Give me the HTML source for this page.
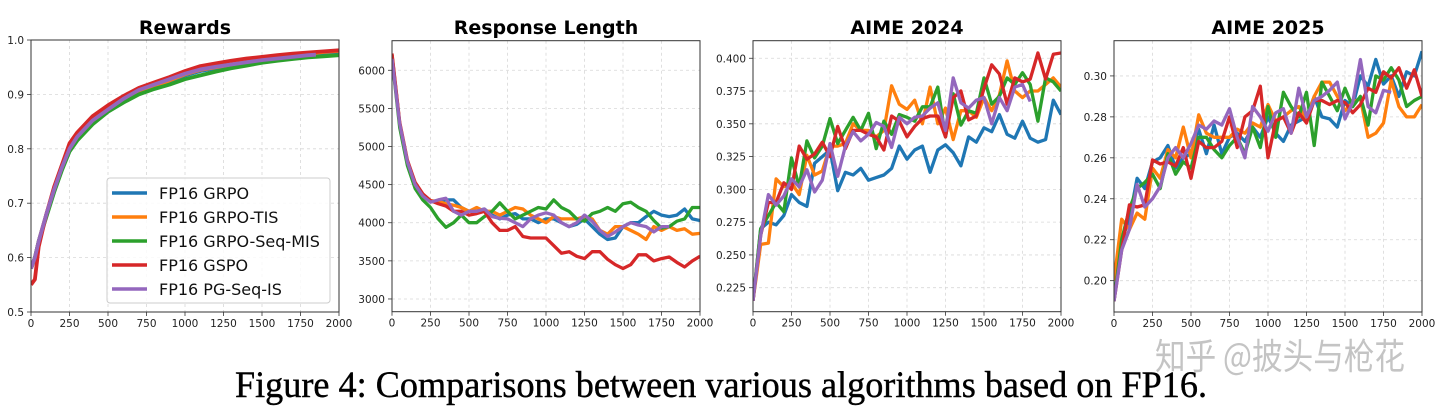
<!DOCTYPE html>
<html><head><meta charset="utf-8"><style>
html,body{margin:0;padding:0;background:#fff;width:1440px;height:413px;overflow:hidden}
svg text{font-family:"DejaVu Sans","Liberation Sans",sans-serif}
</style></head><body>
<svg id="fig" width="1440" height="413" viewBox="0 0 1440 413" xmlns="http://www.w3.org/2000/svg"></svg>
<script>
// ---- Data ----
const seriesNames = ["FP16 GRPO","FP16 GRPO-TIS","FP16 GRPO-Seq-MIS","FP16 GSPO","FP16 PG-Seq-IS"];
const seriesColors = ["#1f77b4","#ff7f0e","#2ca02c","#d62728","#9467bd"];
const xTickLabels = [0,250,500,750,1000,1250,1500,1750,2000];

// Rewards
const rewStepsA = [0,25,50,100,150,200,250,300,400,500,600,700,800,900,1000,1100,1200,1300,1400,1500,1600,1700,1800,1900,2000];
const rewStepsP = [0,25,50,100,150,200,250,300,400,500,600,700,800,900,1000,1100,1200,1300,1400,1500,1600,1700,1800,1850];
const rewBlue   = [0.58,0.60,0.63,0.68,0.725,0.765,0.80,0.82,0.85,0.87,0.89,0.905,0.915,0.925,0.935,0.943,0.948,0.953,0.958,0.963,0.966,0.969,0.972,0.975,0.977];
const rewOrange = [0.58,0.60,0.63,0.68,0.725,0.765,0.80,0.82,0.85,0.872,0.89,0.905,0.915,0.926,0.937,0.945,0.95,0.955,0.96,0.965,0.968,0.971,0.975,0.978,0.98];
const rewGreen  = [0.58,0.60,0.63,0.675,0.72,0.76,0.795,0.815,0.845,0.868,0.885,0.9,0.91,0.918,0.928,0.935,0.942,0.948,0.953,0.958,0.962,0.965,0.968,0.97,0.972];
const rewRed    = [0.55,0.56,0.62,0.68,0.73,0.77,0.81,0.83,0.86,0.88,0.897,0.912,0.922,0.932,0.943,0.952,0.957,0.962,0.966,0.969,0.972,0.975,0.977,0.979,0.981];
const rewPurple = [0.58,0.60,0.63,0.68,0.725,0.765,0.80,0.822,0.852,0.872,0.892,0.908,0.918,0.928,0.938,0.946,0.951,0.955,0.959,0.963,0.966,0.969,0.972,0.973];
const rewTicks = [0.5,0.6,0.7,0.8,0.9,1.0];
const rewTickLabels = ["0.5","0.6","0.7","0.8","0.9","1.0"];

// Response length
const lenSteps = [0,50,100,150,200,250,300,350,400,450,500,550,600,650,700,750,800,850,900,950,1000,1050,1100,1150,1200,1250,1300,1350,1400,1450,1500,1550,1600,1650,1700,1750,1800,1850,1900,1950,2000];
const lenBlue   = [6200,5300,4800,4500,4350,4280,4270,4300,4300,4200,4150,4150,4180,4100,4050,4100,4120,4050,4050,4000,4050,4050,4000,3950,3980,4050,3950,3850,3780,3800,3950,4000,4000,4080,4150,4100,4080,4100,4180,4050,4030];
const lenOrange = [6200,5300,4800,4520,4370,4290,4280,4250,4230,4200,4150,4200,4150,4150,4100,4150,4200,4180,4100,4050,4000,4080,4050,4050,4050,4080,4050,3900,3850,3950,3950,3900,3850,3780,3950,3900,3950,3900,3920,3850,3860];
const lenGreen  = [6150,5250,4750,4450,4300,4200,4050,3940,4000,4100,4000,4000,4080,4150,4260,4150,4050,4100,4150,4200,4180,4300,4200,4150,4050,4020,4120,4150,4200,4150,4250,4270,4200,4150,4030,3930,3950,4020,4050,4200,4200];
const lenRed    = [6220,5320,4820,4530,4380,4290,4250,4220,4150,4150,4100,4120,4150,4000,3900,3900,3950,3820,3800,3800,3800,3700,3600,3620,3560,3530,3620,3620,3520,3450,3400,3450,3580,3580,3500,3530,3550,3480,3420,3500,3560];
const lenPurple = [6150,5300,4800,4500,4350,4270,4300,4320,4150,4100,4150,4150,4180,4080,4060,4050,4000,3950,4050,4100,4130,4100,4000,3950,4000,4100,4020,3900,3820,3880,3950,4000,3970,3950,3880,3950,3950];
const lenTicks = [3000,3500,4000,4500,5000,5500,6000];
const lenTickLabels = ["3000","3500","4000","4500","5000","5500","6000"];

// AIME 2024
const aimeSteps = lenSteps;
const a24Blue   = [0.215,0.27,0.275,0.273,0.28,0.296,0.29,0.287,0.32,0.325,0.33,0.299,0.313,0.311,0.316,0.307,0.309,0.311,0.316,0.333,0.323,0.33,0.333,0.313,0.33,0.334,0.328,0.318,0.34,0.336,0.347,0.344,0.357,0.342,0.339,0.352,0.339,0.336,0.338,0.368,0.357];
const a24Orange = [0.215,0.258,0.259,0.308,0.302,0.305,0.296,0.326,0.311,0.314,0.333,0.333,0.335,0.35,0.345,0.345,0.34,0.345,0.379,0.365,0.361,0.368,0.35,0.378,0.35,0.362,0.338,0.36,0.36,0.355,0.37,0.36,0.372,0.398,0.375,0.37,0.375,0.375,0.38,0.385,0.378];
const a24Green  = [0.215,0.27,0.28,0.29,0.283,0.324,0.302,0.337,0.324,0.333,0.354,0.335,0.345,0.355,0.345,0.358,0.331,0.352,0.342,0.357,0.355,0.352,0.363,0.363,0.378,0.34,0.373,0.349,0.36,0.358,0.385,0.365,0.371,0.385,0.38,0.389,0.38,0.352,0.385,0.382,0.375];
const a24Red    = [0.215,0.265,0.29,0.29,0.305,0.3,0.333,0.323,0.327,0.336,0.325,0.348,0.331,0.345,0.345,0.342,0.34,0.33,0.356,0.352,0.34,0.348,0.354,0.356,0.356,0.34,0.37,0.375,0.353,0.356,0.377,0.395,0.388,0.365,0.385,0.382,0.384,0.404,0.384,0.403,0.404];
const a24Purple = [0.215,0.265,0.296,0.288,0.295,0.308,0.302,0.315,0.298,0.307,0.335,0.31,0.333,0.344,0.337,0.342,0.351,0.348,0.332,0.355,0.35,0.355,0.356,0.362,0.366,0.345,0.385,0.366,0.362,0.368,0.37,0.35,0.37,0.36,0.378,0.38,0.367];
const a24Ticks = [0.225,0.25,0.275,0.3,0.325,0.35,0.375,0.4];
const a24TickLabels = ["0.225","0.250","0.275","0.300","0.325","0.350","0.375","0.400"];

// AIME 2025
const a25Blue   = [0.19,0.22,0.23,0.25,0.245,0.258,0.26,0.266,0.255,0.26,0.262,0.274,0.262,0.276,0.262,0.27,0.272,0.268,0.275,0.27,0.28,0.272,0.268,0.276,0.278,0.28,0.29,0.28,0.279,0.275,0.288,0.285,0.3,0.295,0.308,0.296,0.3,0.29,0.302,0.3,0.312];
const a25Orange = [0.2,0.23,0.225,0.233,0.23,0.255,0.25,0.264,0.26,0.275,0.26,0.281,0.272,0.27,0.27,0.27,0.274,0.272,0.277,0.275,0.286,0.278,0.28,0.283,0.285,0.279,0.29,0.297,0.297,0.29,0.283,0.287,0.289,0.27,0.272,0.277,0.298,0.285,0.28,0.28,0.286];
const a25Green  = [0.19,0.22,0.235,0.245,0.248,0.252,0.245,0.262,0.252,0.258,0.255,0.27,0.27,0.264,0.26,0.266,0.27,0.262,0.275,0.265,0.285,0.27,0.292,0.285,0.28,0.292,0.266,0.297,0.29,0.283,0.294,0.285,0.29,0.276,0.3,0.298,0.304,0.298,0.285,0.288,0.29];
const a25Red    = [0.19,0.215,0.237,0.236,0.237,0.259,0.257,0.258,0.256,0.265,0.25,0.268,0.265,0.265,0.268,0.28,0.265,0.28,0.283,0.295,0.26,0.278,0.28,0.272,0.282,0.277,0.288,0.288,0.286,0.288,0.287,0.282,0.286,0.294,0.292,0.302,0.299,0.304,0.294,0.303,0.29];
const a25Purple = [0.19,0.215,0.225,0.247,0.236,0.24,0.246,0.26,0.265,0.26,0.267,0.276,0.274,0.278,0.276,0.284,0.27,0.26,0.285,0.28,0.273,0.282,0.284,0.272,0.294,0.28,0.288,0.29,0.293,0.297,0.279,0.287,0.308,0.285,0.282,0.293,0.292];
const a25Ticks = [0.2,0.22,0.24,0.26,0.28,0.3];
const a25TickLabels = ["0.20","0.22","0.24","0.26","0.28","0.30"];

// ---- Drawing ----
const NS = "http://www.w3.org/2000/svg";
const svg = document.getElementById("fig");
function mk(tag, attrs, parent){
  const e = document.createElementNS(NS, tag);
  for (const k in attrs) e.setAttribute(k, attrs[k]);
  (parent||svg).appendChild(e);
  return e;
}
function panel(key, title, box, ymin, ymax, yTicks, yLabels, series, lw){
  const g = mk("g", {});
  
  
  const xs = v => box.x0 + (v/2000)*(box.x1-box.x0);
  const ys = v => box.y1 - (v-ymin)/(ymax-ymin)*(box.y1-box.y0);
  xTickLabels.forEach(t => {
    const l = mk("line", {x1:xs(t),x2:xs(t),y1:box.y0,y2:box.y1,stroke:"#d8d8d8","stroke-width":0.8,"stroke-dasharray":"3,3"}, g);
    
    
    const tk = mk("line", {x1:xs(t),x2:xs(t),y1:box.y1,y2:box.y1+4,stroke:"#333","stroke-width":0.8}, g);
    
    
    const tx = mk("text", {x:xs(t),y:box.y1+15,"font-size":10.5,fill:"#222","text-anchor":"middle"}, g);
    tx.textContent = t;
    
    
  });
  yTicks.forEach((t,i) => {
    const l = mk("line", {x1:box.x0,x2:box.x1,y1:ys(t),y2:ys(t),stroke:"#d8d8d8","stroke-width":0.8,"stroke-dasharray":"3,3"}, g);
    
    
    const tk = mk("line", {x1:box.x0-4,x2:box.x0,y1:ys(t),y2:ys(t),stroke:"#333","stroke-width":0.8}, g);
    
    
    const tx = mk("text", {x:box.x0-7,y:ys(t)+4,"font-size":10.5,fill:"#222","text-anchor":"end"}, g);
    tx.textContent = yLabels[i];
    
    
  });
  const clipId = key + "-clip";
  const cp = mk("clipPath", {id:clipId}, g);
  mk("rect", {x:box.x0,y:box.y0,width:box.x1-box.x0,height:box.y1-box.y0}, cp);
  series.forEach((s,i) => {
    const d = s.vals.map((v,j) => (j?"L":"M") + xs(s.steps[j]).toFixed(1) + "," + ys(v).toFixed(1)).join(" ");
    const p = mk("path", {d:d,fill:"none",stroke:seriesColors[i],"stroke-width":lw,"stroke-linejoin":"round","clip-path":"url(#"+clipId+")"}, g);
    
    
  });
  const fr = mk("rect", {x:box.x0,y:box.y0,width:box.x1-box.x0,height:box.y1-box.y0,fill:"none",stroke:"#333","stroke-width":1}, g);
  
  
  const tt = mk("text", {x:(box.x0+box.x1)/2,y:34,"font-size":19,"font-weight":"bold",fill:"#000","text-anchor":"middle"}, g);
  tt.textContent = title;
  
  
  return g;
}

panel("rewards","Rewards",{x0:31,x1:339,y0:40,y1:312},0.5,1.0,rewTicks,rewTickLabels,[
  {steps:rewStepsA,vals:rewBlue},{steps:rewStepsA,vals:rewOrange},{steps:rewStepsA,vals:rewGreen},{steps:rewStepsA,vals:rewRed},{steps:rewStepsP,vals:rewPurple}],3.8);
panel("response-length","Response Length",{x0:392,x1:700,y0:40.7,y1:311.7},2833,6388,lenTicks,lenTickLabels,[
  {steps:lenSteps,vals:lenBlue},{steps:lenSteps,vals:lenOrange},{steps:lenSteps,vals:lenGreen},{steps:lenSteps,vals:lenRed},{steps:lenSteps,vals:lenPurple}],3.3);
panel("aime-2024","AIME 2024",{x0:753,x1:1061,y0:40.7,y1:311.7},0.2067,0.4134,a24Ticks,a24TickLabels,[
  {steps:aimeSteps,vals:a24Blue},{steps:aimeSteps,vals:a24Orange},{steps:aimeSteps,vals:a24Green},{steps:aimeSteps,vals:a24Red},{steps:aimeSteps,vals:a24Purple}],3.3);
panel("aime-2025","AIME 2025",{x0:1114,x1:1422,y0:40.7,y1:312},0.1847,0.3172,a25Ticks,a25TickLabels,[
  {steps:aimeSteps,vals:a25Blue},{steps:aimeSteps,vals:a25Orange},{steps:aimeSteps,vals:a25Green},{steps:aimeSteps,vals:a25Red},{steps:aimeSteps,vals:a25Purple}],3.3);

// legend
const lg = mk("g", {});


mk("rect", {x:107,y:178,width:223,height:125,rx:3,fill:"#fff","fill-opacity":0.85,stroke:"#ccc","stroke-width":1}, lg);
seriesNames.forEach((n,i) => {
  const y = 193 + i*24;
  const ln = mk("line", {x1:112,x2:147,y1:y,y2:y,stroke:seriesColors[i],"stroke-width":3.5}, lg);
  
  
  const t = mk("text", {x:159,y:y+6,"font-size":16,fill:"#111"}, lg);
  t.textContent = n;
  
  
});

// watermark & caption
const wm = mk("text", {x:1155,y:369,"font-size":36,fill:"#c4c4c4",style:'font-family:"Noto Sans CJK SC","WenQuanYi Zen Hei",sans-serif',textLength:250,lengthAdjust:"spacingAndGlyphs"});
wm.textContent = "知乎 @披头与枪花";


const cap = mk("text", {x:235,y:397,"font-size":37,fill:"#000",stroke:"#000","stroke-width":0.4,style:'font-family:"Liberation Serif",serif',textLength:972,lengthAdjust:"spacingAndGlyphs"});
cap.textContent = "Figure 4: Comparisons between various algorithms based on FP16.";


</script>
</body></html>
